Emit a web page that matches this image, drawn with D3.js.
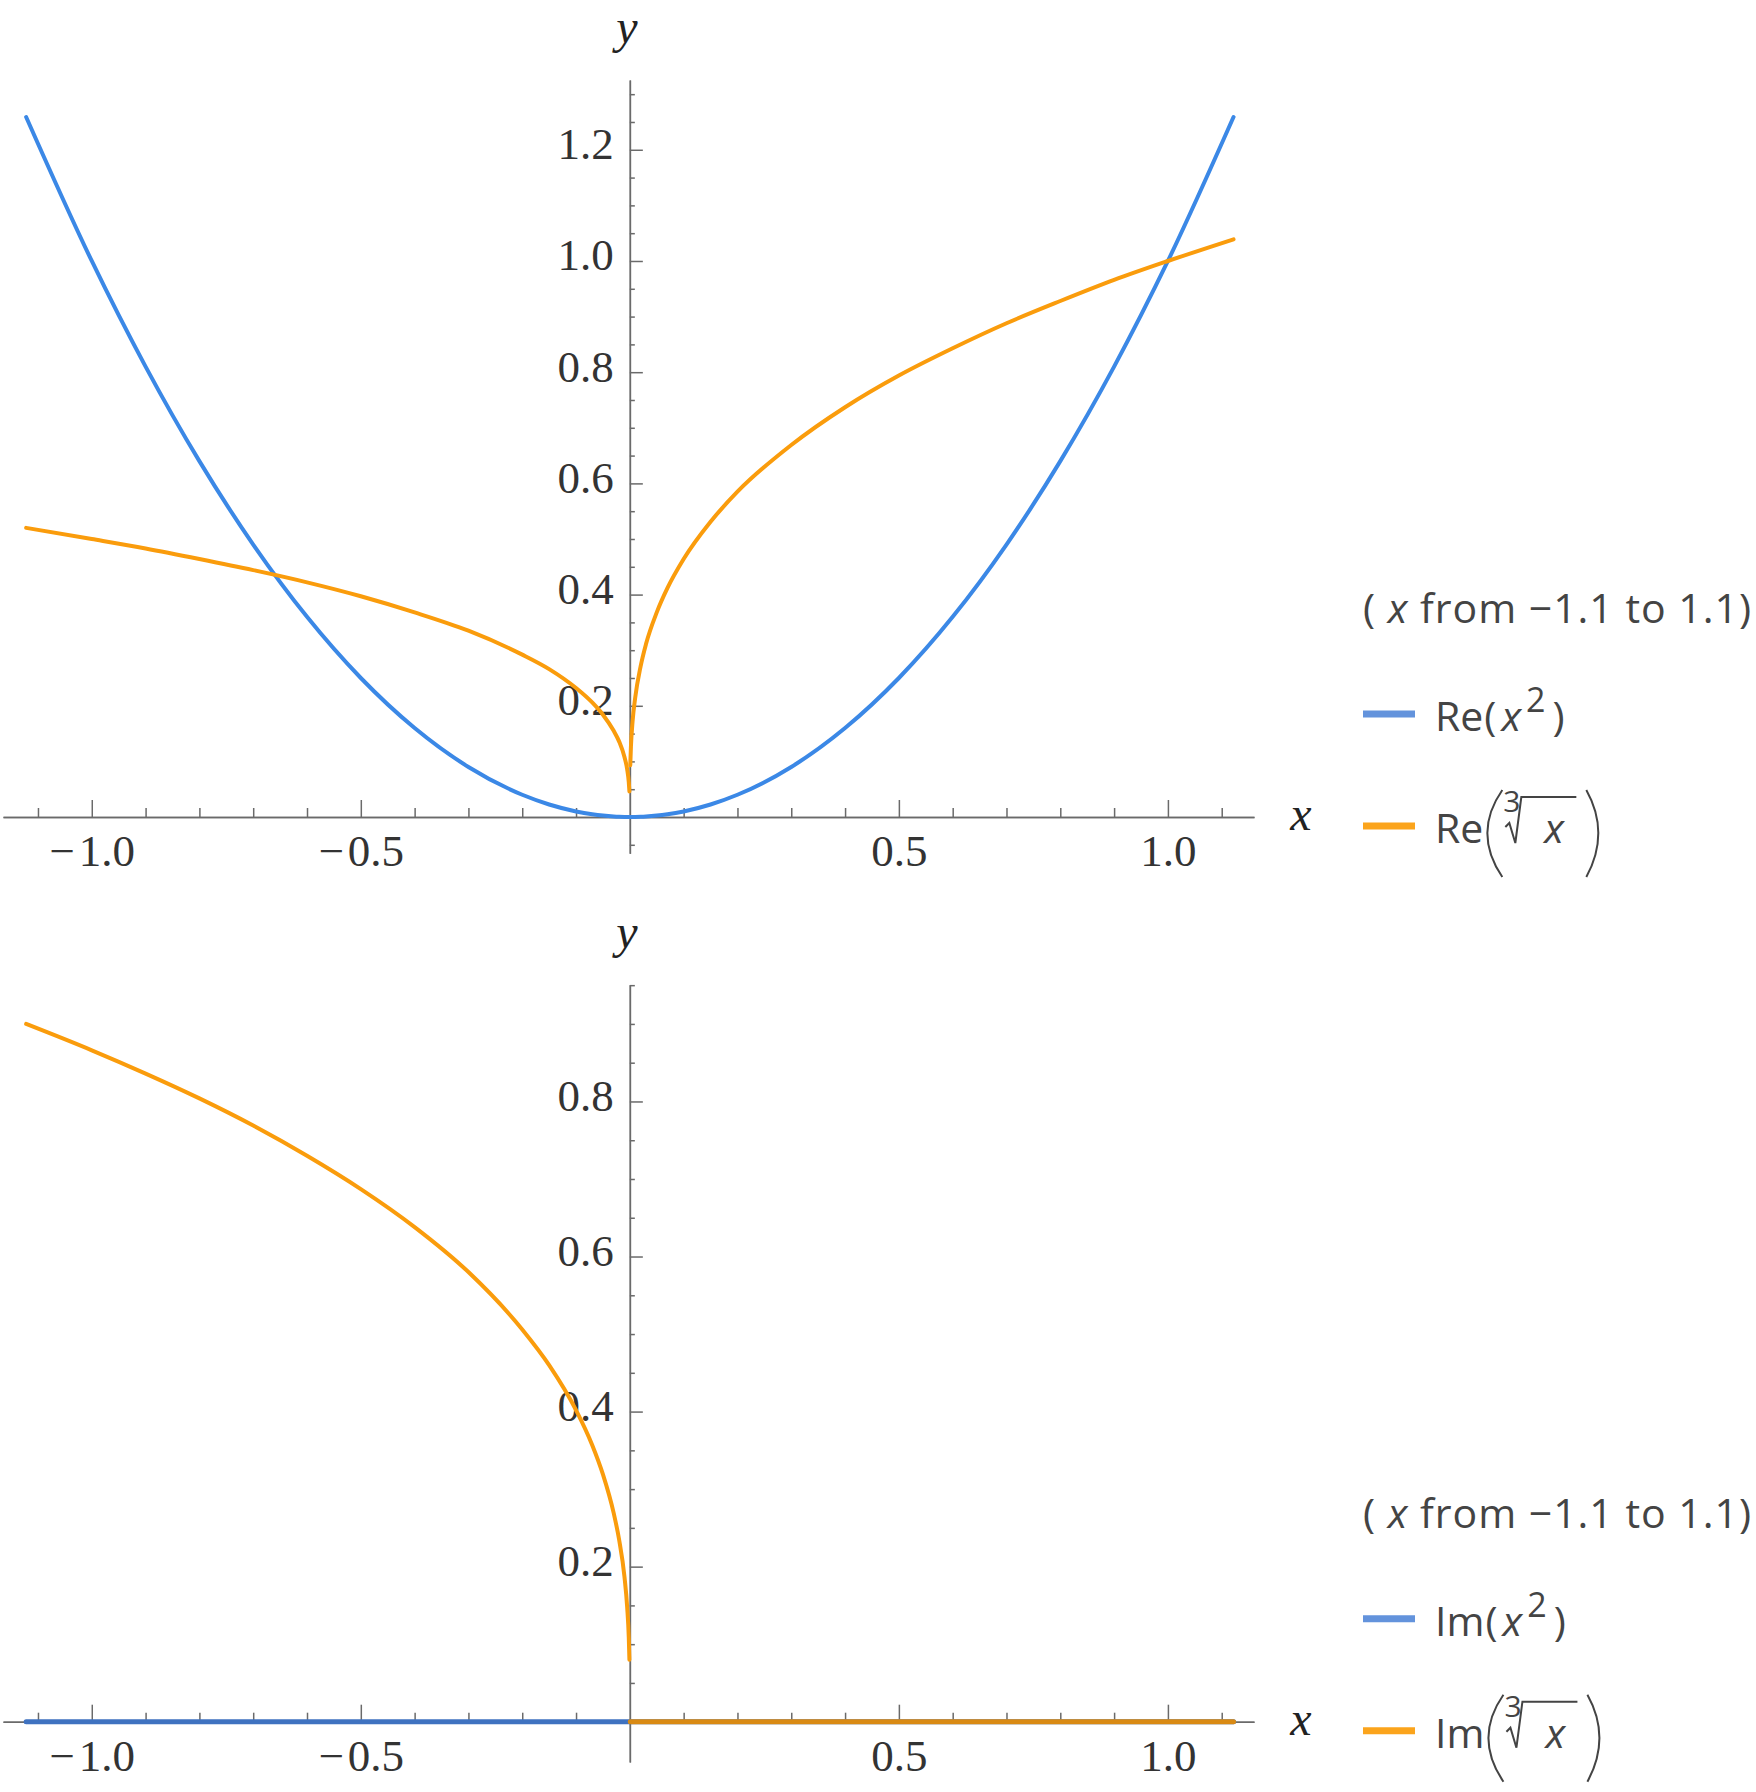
<!DOCTYPE html>
<html>
<head>
<meta charset="utf-8">
<title>Re / Im of x^2 and cube root of x</title>
<script src="https://cdn.jsdelivr.net/npm/d3@7"></script>
<style>
  body { margin: 0; background: #fff; }
  .axis path, .axis line { stroke: #6a6a6a; stroke-width: 1.5; }
  .axis text { font-family: "Liberation Serif", serif; font-size: 45px; fill: #333; }
  .lbl { font-family: "Liberation Serif", serif; font-style: italic; font-size: 48px; fill: #222; }
  .leg { font-family: "Open Sans", sans-serif; font-size: 41px; fill: #444; }
</style>
</head>
<body>
<script>
// sample points (x from -1.1 to 1.1, a touch past)
var xNeg = [-1.122, -1.0, -0.9, -0.8, -0.7, -0.6, -0.5, -0.4, -0.3, -0.2, -0.15, -0.1, -0.07, -0.05, -0.03, -0.02, -0.01, -0.005, -0.002, -0.0008];
var xPos = [0.0008, 0.002, 0.005, 0.01, 0.02, 0.03, 0.05, 0.07, 0.1, 0.15, 0.2, 0.3, 0.4, 0.5, 0.6, 0.7, 0.8, 0.9, 1.0, 1.122];

// top plot: real parts
var reSqNeg = [1.259, 1.0, 0.81, 0.64, 0.49, 0.36, 0.25, 0.16, 0.09, 0.04, 0.0225, 0.01, 0.0049, 0.0025, 0.0009, 0.0004, 0.0001, 0.0, 0.0, 0.0];
var reSqPos = [0.0, 0.0, 0.0, 0.0001, 0.0004, 0.0009, 0.0025, 0.0049, 0.01, 0.0225, 0.04, 0.09, 0.16, 0.25, 0.36, 0.49, 0.64, 0.81, 1.0, 1.259];
var reCbrtNeg = [0.520, 0.500, 0.483, 0.464, 0.444, 0.422, 0.397, 0.368, 0.335, 0.292, 0.266, 0.232, 0.206, 0.184, 0.155, 0.136, 0.108, 0.086, 0.063, 0.046];
var reCbrtPos = [0.093, 0.126, 0.171, 0.215, 0.271, 0.311, 0.368, 0.412, 0.464, 0.531, 0.585, 0.669, 0.737, 0.794, 0.843, 0.888, 0.928, 0.966, 1.000, 1.039];

// bottom plot: imaginary parts
var imSqNeg = [0, 0, 0, 0, 0, 0, 0, 0, 0, 0, 0, 0, 0, 0, 0, 0, 0, 0, 0, 0];
var imSqPos = [0, 0, 0, 0, 0, 0, 0, 0, 0, 0, 0, 0, 0, 0, 0, 0, 0, 0, 0, 0];
var imCbrtNeg = [0.900, 0.866, 0.836, 0.804, 0.769, 0.730, 0.687, 0.638, 0.580, 0.506, 0.460, 0.402, 0.357, 0.319, 0.269, 0.235, 0.187, 0.148, 0.109, 0.080];
var imCbrtPos = [0, 0, 0, 0, 0, 0, 0, 0, 0, 0, 0, 0, 0, 0, 0, 0, 0, 0, 0, 0];

var xMajor = [-1.0, -0.5, 0.5, 1.0];
var xMinor = [-1.1, -0.9, -0.8, -0.7, -0.6, -0.4, -0.3, -0.2, -0.1, 0.1, 0.2, 0.3, 0.4, 0.6, 0.7, 0.8, 0.9, 1.1];
var topMajor = [0.2, 0.4, 0.6, 0.8, 1.0, 1.2];
var botMajor = [0.2, 0.4, 0.6, 0.8];
var legendHead = "from \u22121.1 to 1.1)";

var blue = "#3b88e6", orange = "#fa9c0c";
var blueKey = "#6393dc", orangeKey = "#fba41c";

var width = 1756, height = 1792;
var svg = d3.select("body").append("svg")
    .attr("width", width)
    .attr("height", height);

var x = d3.scaleLinear().domain([-1.165, 1.16]).range([3, 1254]);
var x0 = 817, yTopPx = 80;  // pixel row of y=0 and top of the y axis inside a panel

function zip(xs, ys) { return xs.map(function (v, i) { return [v, ys[i]]; }); }

function minorTicks(lo, hi) {
    var out = [];
    for (var i = lo; i <= hi; i++) if (i % 4 != 0) out.push(i * 0.05);
    return out;
}

function drawPanel(p) {
    var g = svg.append("g").attr("transform", "translate(0," + p.off + ")");
    var k = (x0 - yTopPx) / p.yMax;
    var y = d3.scaleLinear().domain([p.yMin, p.yMax]).range([x0 - p.yMin * k, yTopPx]);

    // x axis, ticks pointing up
    g.append("g").attr("class", "axis").attr("transform", "translate(0," + x0 + ")")
        .call(d3.axisBottom(x).tickValues(xMinor).tickSize(-9).tickSizeOuter(0).tickFormat(""));
    g.append("g").attr("class", "axis").attr("transform", "translate(0," + x0 + ")")
        .call(d3.axisBottom(x).tickValues(xMajor).tickSize(-17).tickSizeOuter(0).tickPadding(17)
            .tickFormat(function (d) { return d < 0 ? "\u2212\u200a" + d3.format(".1f")(-d) : d3.format(".1f")(d); }));

    // y axis, ticks pointing right
    g.append("g").attr("class", "axis").attr("transform", "translate(" + x(0) + ",0)")
        .call(d3.axisLeft(y).tickValues(p.yMinor).tickSize(-5).tickSizeOuter(0).tickFormat(""));
    g.append("g").attr("class", "axis").attr("transform", "translate(" + x(0) + ",0)")
        .call(d3.axisLeft(y).tickValues(p.yMajor).tickSize(-13).tickSizeOuter(0).tickPadding(16)
            .tickFormat(d3.format(".1f")))
        .selectAll("text").attr("dy", "0.2em");

    g.append("text").attr("class", "lbl").attr("x", 1301).attr("y", x0 + 13)
        .attr("text-anchor", "middle").text("x");
    g.append("text").attr("class", "lbl").attr("x", x(0) - 3).attr("y", 43)
        .attr("text-anchor", "middle").text("y");

    var line = d3.line()
        .x(function (d) { return x(d[0]); })
        .y(function (d) { return y(d[1]); })
        .curve(d3.curveMonotoneX);

    p.series.forEach(function (s) {
        s.parts.forEach(function (pts) {
            g.append("path").datum(pts)
                .attr("d", line)
                .attr("fill", "none")
                .attr("stroke", s.color)
                .attr("stroke-width", s.width || 4)
                .attr("stroke-linejoin", "round")
                .attr("stroke-linecap", "round");
        });
    });

    // legend
    var lg = g.append("g").attr("class", "leg");
    var head = lg.append("text").attr("x", 1363).attr("y", 623)
        .attr("textLength", 388).attr("lengthAdjust", "spacing");
    head.append("tspan").text("( ");
    head.append("tspan").attr("font-style", "italic").text("x");
    head.append("tspan").text("  " + legendHead);

    lg.append("line").attr("x1", 1363).attr("x2", 1415).attr("y1", 714).attr("y2", 714)
        .attr("stroke", blueKey).attr("stroke-width", 7);
    var t1 = lg.append("text").attr("x", 1435).attr("y", 731);
    t1.append("tspan").text(p.fn);
    t1.append("tspan").attr("dx", 1).text("(");
    t1.append("tspan").attr("dx", 5).attr("font-style", "italic").text("x");
    t1.append("tspan").attr("dx", 5).attr("dy", -19).attr("font-size", 34).text("2");
    t1.append("tspan").attr("dx", 7).attr("dy", 19).text(")");

    lg.append("line").attr("x1", 1363).attr("x2", 1415).attr("y1", 826).attr("y2", 826)
        .attr("stroke", orangeKey).attr("stroke-width", 7);
    var t2 = lg.append("text").attr("x", 1435).attr("y", 843).text(p.fn);
    var px = 1435 + t2.node().getComputedTextLength() + 7;
    lg.append("path").attr("d", "M" + (px + 12) + ",790 Q" + (px - 18) + ",833 " + (px + 12) + ",877")
        .attr("fill", "none").attr("stroke", "#444").attr("stroke-width", 2);
    lg.append("text").attr("x", px + 13).attr("y", 812).attr("font-size", 30).text("3");
    lg.append("path").attr("d", "M" + (px + 15) + ",827 L" + (px + 19) + ",823 L" + (px + 25) + ",843 L" + (px + 31) + ",797 L" + (px + 86) + ",797")
        .attr("fill", "none").attr("stroke", "#444").attr("stroke-width", 2);
    lg.append("text").attr("x", px + 54).attr("y", 843).attr("font-style", "italic").text("x");
    lg.append("path").attr("d", "M" + (px + 96) + ",790 Q" + (px + 120) + ",833 " + (px + 96) + ",877")
        .attr("fill", "none").attr("stroke", "#444").attr("stroke-width", 2);
}

drawPanel({
    off: 0, yMin: -0.065, yMax: 1.3255, fn: "Re",
    yMajor: topMajor, yMinor: minorTicks(-1, 26),
    series: [
        { color: blue, parts: [zip(xNeg.concat(xPos), reSqNeg.concat(reSqPos))] },
        { color: orange, parts: [zip(xNeg, reCbrtNeg), zip(xPos, reCbrtPos)] }
    ]
});

drawPanel({
    off: 904.7, yMin: -0.052, yMax: 0.9506, fn: "Im",
    yMajor: botMajor, yMinor: minorTicks(1, 19),
    series: [
        { color: "#3f72c0", width: 5, parts: [zip(xNeg.concat(xPos), imSqNeg.concat(imSqPos))] },
        { color: orange, parts: [zip(xNeg, imCbrtNeg)] },
        { color: "#d98a14", width: 5, parts: [zip(xPos, imCbrtPos)] }
    ]
});
</script>
</body>
</html>
